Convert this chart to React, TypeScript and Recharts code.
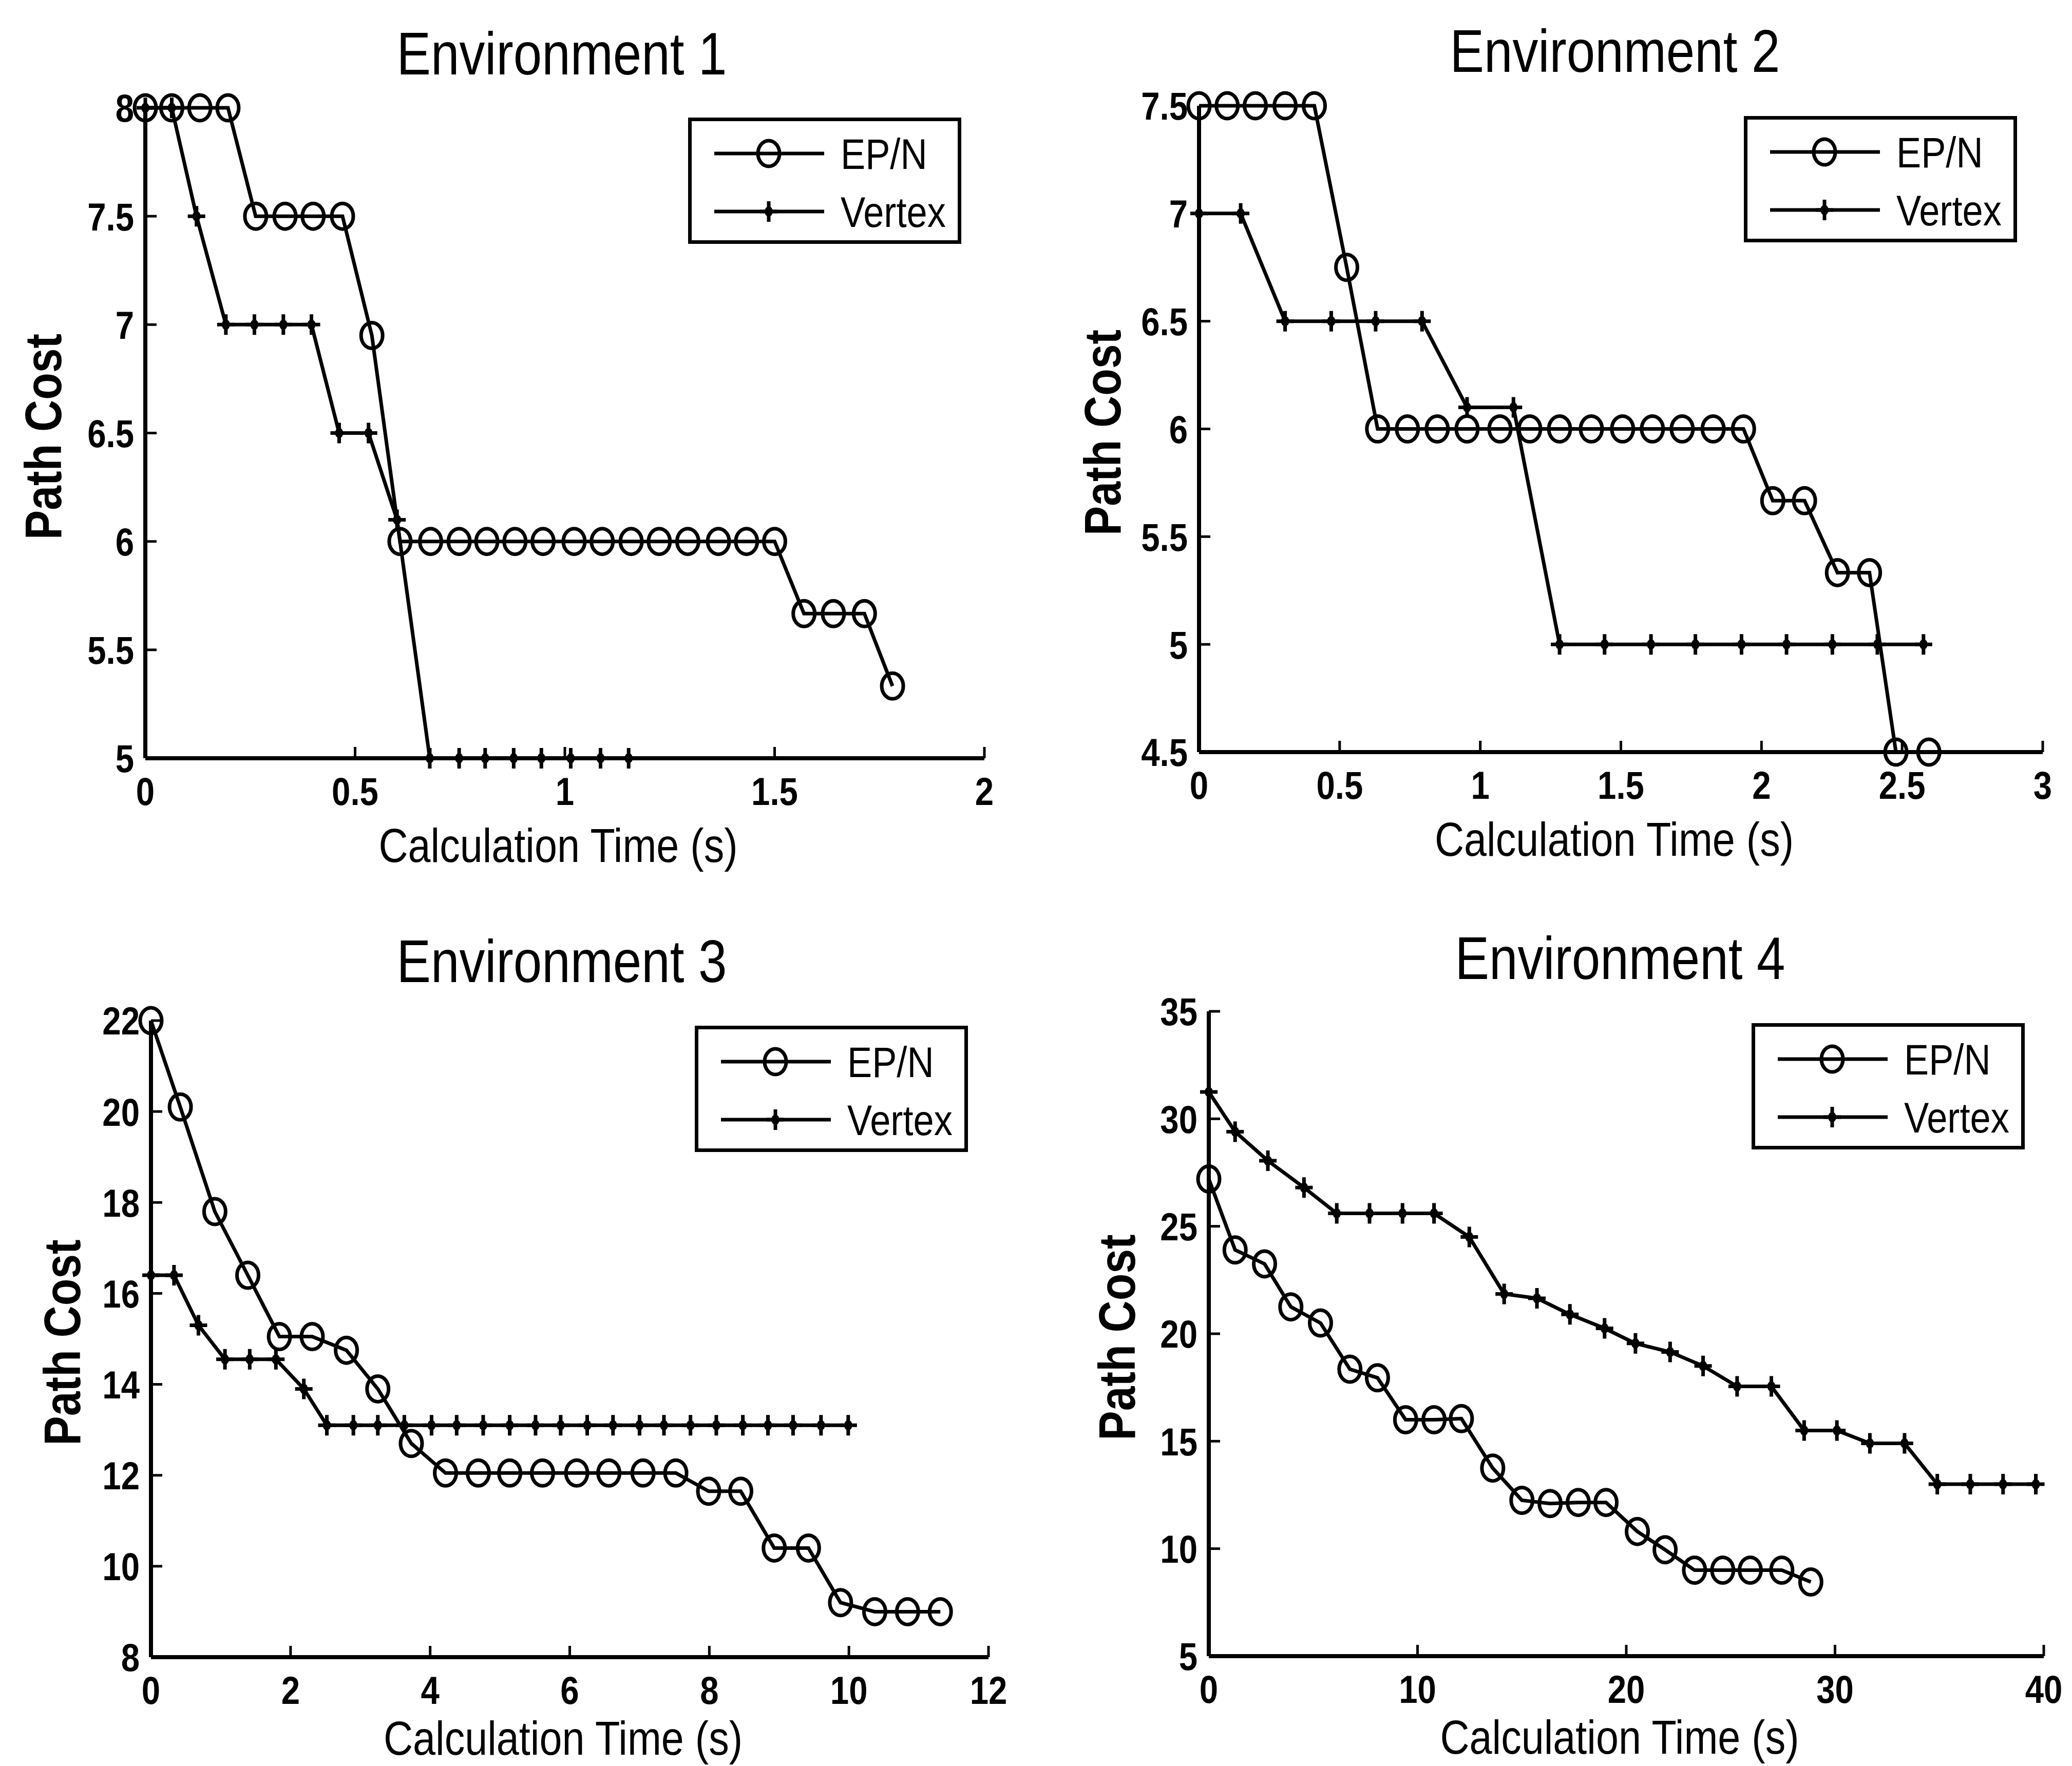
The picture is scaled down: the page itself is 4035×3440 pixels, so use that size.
import React from "react";
import { LineChart, Line, XAxis, YAxis, Legend, Label } from "recharts";

const FONT = "'Liberation Sans', Arial, sans-serif";
// the lettering in these figures is tall and narrow
const SQUEEZE = 0.86;

// Environment 1
const env1EpnTime = [0, 0.063, 0.13, 0.197, 0.263, 0.333, 0.4, 0.47, 0.54, 0.607, 0.68, 0.748, 0.814, 0.881, 0.948, 1.022, 1.089, 1.158, 1.225, 1.293, 1.366, 1.433, 1.5, 1.57, 1.64, 1.714, 1.781];
const env1EpnCost = [8, 8, 8, 8, 7.5, 7.5, 7.5, 7.5, 6.95, 6, 6, 6, 6, 6, 6, 6, 6, 6, 6, 6, 6, 6, 6, 5.667, 5.667, 5.667, 5.333];
const env1VertexTime = [0, 0.063, 0.122, 0.192, 0.26, 0.329, 0.396, 0.462, 0.532, 0.6, 0.678, 0.748, 0.81, 0.878, 0.944, 1.014, 1.085, 1.152];
const env1VertexCost = [8, 8, 7.5, 7, 7, 7, 7, 6.5, 6.5, 6.1, 5, 5, 5, 5, 5, 5, 5, 5];
const env1TimeTicks = [0, 0.5, 1, 1.5, 2];
const env1CostTicks = [5, 5.5, 6, 6.5, 7, 7.5, 8];

// Environment 2
const env2EpnTime = [0, 0.1, 0.2, 0.306, 0.41, 0.525, 0.635, 0.741, 0.847, 0.953, 1.07, 1.176, 1.282, 1.395, 1.506, 1.612, 1.718, 1.828, 1.936, 2.04, 2.153, 2.27, 2.384, 2.478, 2.595];
const env2EpnCost = [7.5, 7.5, 7.5, 7.5, 7.5, 6.75, 6, 6, 6, 6, 6, 6, 6, 6, 6, 6, 6, 6, 6, 5.667, 5.667, 5.333, 5.333, 4.5, 4.5];
const env2VertexTime = [0, 0.148, 0.306, 0.47, 0.628, 0.793, 0.953, 1.118, 1.282, 1.442, 1.607, 1.765, 1.929, 2.089, 2.252, 2.412, 2.576];
const env2VertexCost = [7, 7, 6.5, 6.5, 6.5, 6.5, 6.1, 6.1, 5, 5, 5, 5, 5, 5, 5, 5, 5];
const env2TimeTicks = [0, 0.5, 1, 1.5, 2, 2.5, 3];
const env2CostTicks = [4.5, 5, 5.5, 6, 6.5, 7, 7.5];

// Environment 3
const env3EpnTime = [0, 0.42, 0.915, 1.387, 1.84, 2.31, 2.8, 3.25, 3.73, 4.22, 4.69, 5.14, 5.61, 6.1, 6.56, 7.05, 7.52, 7.99, 8.45, 8.93, 9.42, 9.88, 10.37, 10.84, 11.31];
const env3EpnCost = [22, 20.1, 17.8, 16.4, 15.05, 15.05, 14.75, 13.9, 12.7, 12.05, 12.05, 12.05, 12.05, 12.05, 12.05, 12.05, 12.05, 11.65, 11.65, 10.4, 10.4, 9.2, 9.0, 9.0, 9.0];
const env3VertexTime = [0, 0.33, 0.68, 1.06, 1.415, 1.79, 2.19, 2.52, 2.9, 3.25, 3.63, 4.02, 4.38, 4.76, 5.14, 5.51, 5.87, 6.25, 6.62, 7.0, 7.35, 7.73, 8.1, 8.48, 8.84, 9.2, 9.6, 9.99];
const env3VertexCost = [16.4, 16.4, 15.3, 14.55, 14.55, 14.55, 13.9, 13.1, 13.1, 13.1, 13.1, 13.1, 13.1, 13.1, 13.1, 13.1, 13.1, 13.1, 13.1, 13.1, 13.1, 13.1, 13.1, 13.1, 13.1, 13.1, 13.1, 13.1];
const env3TimeTicks = [0, 2, 4, 6, 8, 10, 12];
const env3CostTicks = [8, 10, 12, 14, 16, 18, 20, 22];

// Environment 4
const env4EpnTime = [0, 1.26, 2.67, 3.93, 5.35, 6.76, 8.08, 9.43, 10.79, 12.1, 13.6, 15.0, 16.35, 17.7, 19.03, 20.53, 21.86, 23.27, 24.62, 25.94, 27.45, 28.84];
const env4EpnCost = [27.2, 23.9, 23.25, 21.25, 20.5, 18.35, 17.95, 16.0, 16.0, 16.05, 13.75, 12.25, 12.1, 12.15, 12.15, 10.8, 9.95, 9.0, 9.0, 9.0, 9.0, 8.45];
const env4VertexTime = [0, 1.26, 2.83, 4.56, 6.13, 7.7, 9.28, 10.79, 12.48, 14.15, 15.72, 17.3, 18.96, 20.44, 22.1, 23.68, 25.31, 26.95, 28.52, 30.09, 31.67, 33.33, 34.9, 36.48, 38.05, 39.62];
const env4VertexCost = [31.25, 29.4, 28.05, 26.8, 25.6, 25.6, 25.6, 25.6, 24.5, 21.85, 21.65, 20.9, 20.25, 19.55, 19.15, 18.5, 17.55, 17.55, 15.5, 15.5, 14.9, 14.9, 13.0, 13.0, 13.0, 13.0];
const env4TimeTicks = [0, 10, 20, 30, 40];
const env4CostTicks = [5, 10, 15, 20, 25, 30, 35];

const zip = (time: number[], cost: number[]) => time.map((t, i) => ({ time: t, cost: cost[i] }));

type Box = { left: number; top: number; right: number; bottom: number };

type PanelSpec = {
  title: string;
  epn: { time: number; cost: number }[];
  vertex: { time: number; cost: number }[];
  timeTicks: number[];
  costTicks: number[];
  plot: Box;
  titleAt: [number, number];
  legendAt: [number, number];
  yLabelGap: number;
  xLabelDrop: number;
};

const panels: PanelSpec[] = [
  {
    title: "Environment 1",
    epn: zip(env1EpnTime, env1EpnCost),
    vertex: zip(env1VertexTime, env1VertexCost),
    timeTicks: env1TimeTicks,
    costTicks: env1CostTicks,
    plot: { left: 283, top: 210, right: 1917, bottom: 1477 },
    titleAt: [1094, 103],
    legendAt: [1340, 229],
    yLabelGap: 200,
    xLabelDrop: 202,
  },
  {
    title: "Environment 2",
    epn: zip(env2EpnTime, env2EpnCost),
    vertex: zip(env2VertexTime, env2VertexCost),
    timeTicks: env2TimeTicks,
    costTicks: env2CostTicks,
    plot: { left: 2335, top: 206, right: 3978, bottom: 1465 },
    titleAt: [3145, 98],
    legendAt: [3396, 226],
    yLabelGap: 189,
    xLabelDrop: 202,
  },
  {
    title: "Environment 3",
    epn: zip(env3EpnTime, env3EpnCost),
    vertex: zip(env3VertexTime, env3VertexCost),
    timeTicks: env3TimeTicks,
    costTicks: env3CostTicks,
    plot: { left: 294, top: 1988, right: 1925, bottom: 3228 },
    titleAt: [1094, 1871],
    legendAt: [1353, 1998],
    yLabelGap: 174,
    xLabelDrop: 190,
  },
  {
    title: "Environment 4",
    epn: zip(env4EpnTime, env4EpnCost),
    vertex: zip(env4VertexTime, env4VertexCost),
    timeTicks: env4TimeTicks,
    costTicks: env4CostTicks,
    plot: { left: 2354, top: 1970, right: 3980, bottom: 3226 },
    titleAt: [3155, 1865],
    legendAt: [3411, 1993],
    yLabelGap: 180,
    xLabelDrop: 190,
  },
];

const MARGIN = { top: 200, right: 80, bottom: 0, left: 130 };
const Y_AXIS_W = 200;
const X_AXIS_H = 280;
const X_TICK_GAP = 36;
const Y_TICK_GAP = 22;
const INNER_TICK = 22;
const TICK_FONT = 76;
const LEGEND_W = 532;
const LEGEND_H = 246;

function NarrowText(props: {
  x: number;
  y: number;
  size: number;
  weight?: number;
  anchor?: "start" | "middle" | "end";
  rotate?: number;
  dy?: string;
  children: React.ReactNode;
}) {
  const { x, y, size, weight = 400, anchor = "middle", rotate = 0, dy = "0", children } = props;
  return (
    <g transform={`translate(${x},${y}) rotate(${rotate}) scale(${SQUEEZE},1)`}>
      <text x={0} y={0} dy={dy} textAnchor={anchor} fontFamily={FONT} fontSize={size} fontWeight={weight} fill="#000">
        {children}
      </text>
    </g>
  );
}

// open circle marker (slightly tall, like the scanned original)
function Ring(props: any) {
  const { cx, cy } = props;
  if (cx == null || cy == null) return null;
  return <ellipse cx={cx} cy={cy} rx={21} ry={25} fill="none" stroke="#000" strokeWidth={7} />;
}

// plus marker with a heavy centre
function Plus(props: any) {
  const { cx, cy } = props;
  if (cx == null || cy == null) return null;
  return (
    <g>
      <path d={`M${cx - 17},${cy}H${cx + 17}M${cx},${cy - 20}V${cy + 20}`} stroke="#000" strokeWidth={7} />
      <ellipse cx={cx} cy={cy} rx={8} ry={10} fill="#000" />
    </g>
  );
}

function TimeTick(props: any) {
  const { x, y, payload } = props;
  const axisY = y - X_TICK_GAP;
  return (
    <g>
      <line x1={x} x2={x} y1={axisY} y2={axisY - INNER_TICK} stroke="#000" strokeWidth={5} />
      <NarrowText x={x} y={y} dy="0.72em" size={TICK_FONT} weight={700}>
        {payload.value}
      </NarrowText>
    </g>
  );
}

function CostTick(props: any) {
  const { x, y, payload } = props;
  const axisX = x + Y_TICK_GAP;
  return (
    <g>
      <line x1={axisX} x2={axisX + INNER_TICK} y1={y} y2={y} stroke="#000" strokeWidth={5} />
      <NarrowText x={x} y={y} dy="0.36em" size={TICK_FONT} weight={700} anchor="end">
        {payload.value}
      </NarrowText>
    </g>
  );
}

function LegendBox() {
  const rows = [
    { name: "EP/N", y: 70, marker: <Ring cx={157} cy={70} /> },
    { name: "Vertex", y: 183, marker: <Plus cx={157} cy={183} /> },
  ];
  return (
    <svg width={LEGEND_W} height={LEGEND_H} style={{ display: "block" }}>
      <rect x={3.5} y={3.5} width={LEGEND_W - 7} height={LEGEND_H - 7} fill="#fff" stroke="#000" strokeWidth={7} />
      {rows.map((r) => (
        <g key={r.name}>
          <line x1={51} x2={265} y1={r.y} y2={r.y} stroke="#000" strokeWidth={7} />
          {r.marker}
          <NarrowText x={297} y={r.y} dy="0.36em" size={84} anchor="start">
            {r.name}
          </NarrowText>
        </g>
      ))}
    </svg>
  );
}

function Panel({ p }: { p: PanelSpec }) {
  const { left, top, right, bottom } = p.plot;
  const chartLeft = left - MARGIN.left - Y_AXIS_W;
  const chartTop = top - MARGIN.top;
  const plotW = right - left;
  const plotH = bottom - top;
  const width = plotW + MARGIN.left + Y_AXIS_W + MARGIN.right;
  const height = plotH + MARGIN.top + X_AXIS_H;
  const innerLeft = MARGIN.left + Y_AXIS_W;
  const tMin = p.timeTicks[0];
  const tMax = p.timeTicks[p.timeTicks.length - 1];
  const cMin = p.costTicks[0];
  const cMax = p.costTicks[p.costTicks.length - 1];
  const yLabelX = innerLeft - p.yLabelGap + 36;
  const yLabelY = MARGIN.top + plotH / 2 + 7;

  return (
    <div style={{ position: "absolute", left: chartLeft, top: chartTop }}>
      <LineChart width={width} height={height} margin={MARGIN}>
        <XAxis
          type="number"
          dataKey="time"
          domain={[tMin, tMax]}
          ticks={p.timeTicks}
          height={X_AXIS_H}
          axisLine={{ stroke: "#000", strokeWidth: 8 }}
          tickLine={false}
          tickSize={0}
          tickMargin={X_TICK_GAP}
          tick={<TimeTick />}
          interval={0}
        >
          <Label
            content={() => (
              <NarrowText x={innerLeft + plotW / 2 - 13} y={MARGIN.top + plotH + p.xLabelDrop} size={92}>
                Calculation Time (s)
              </NarrowText>
            )}
          />
          <Label
            content={() => (
              <NarrowText x={p.titleAt[0] - chartLeft} y={p.titleAt[1] - chartTop + 42} size={116}>
                {p.title}
              </NarrowText>
            )}
          />
        </XAxis>
        <YAxis
          type="number"
          dataKey="cost"
          domain={[cMin, cMax]}
          ticks={p.costTicks}
          width={Y_AXIS_W}
          axisLine={{ stroke: "#000", strokeWidth: 8 }}
          tickLine={false}
          tickSize={0}
          tickMargin={Y_TICK_GAP}
          tick={<CostTick />}
          interval={0}
        >
          <Label
            content={() => (
              <NarrowText x={yLabelX} y={yLabelY} rotate={-90} size={100} weight={700}>
                Path Cost
              </NarrowText>
            )}
          />
        </YAxis>
        <Legend
          layout="horizontal"
          verticalAlign="middle"
          align="center"
          content={() => <LegendBox />}
          wrapperStyle={{
            left: p.legendAt[0] - chartLeft,
            top: p.legendAt[1] - chartTop,
            width: LEGEND_W,
            height: LEGEND_H,
          }}
        />
        <Line
          data={p.vertex}
          dataKey="cost"
          name="Vertex"
          type="linear"
          stroke="#000"
          strokeWidth={7}
          dot={<Plus />}
          activeDot={false}
          isAnimationActive={false}
        />
        <Line
          data={p.epn}
          dataKey="cost"
          name="EP/N"
          type="linear"
          stroke="#000"
          strokeWidth={7}
          dot={<Ring />}
          activeDot={false}
          isAnimationActive={false}
        />
      </LineChart>
    </div>
  );
}

export default function App() {
  return (
    <div
      style={{
        position: "absolute",
        left: 0,
        top: 0,
        width: 4035,
        height: 3440,
        background: "#fff",
        overflow: "hidden",
      }}
    >
      {panels.map((p) => (
        <Panel key={p.title} p={p} />
      ))}
    </div>
  );
}
